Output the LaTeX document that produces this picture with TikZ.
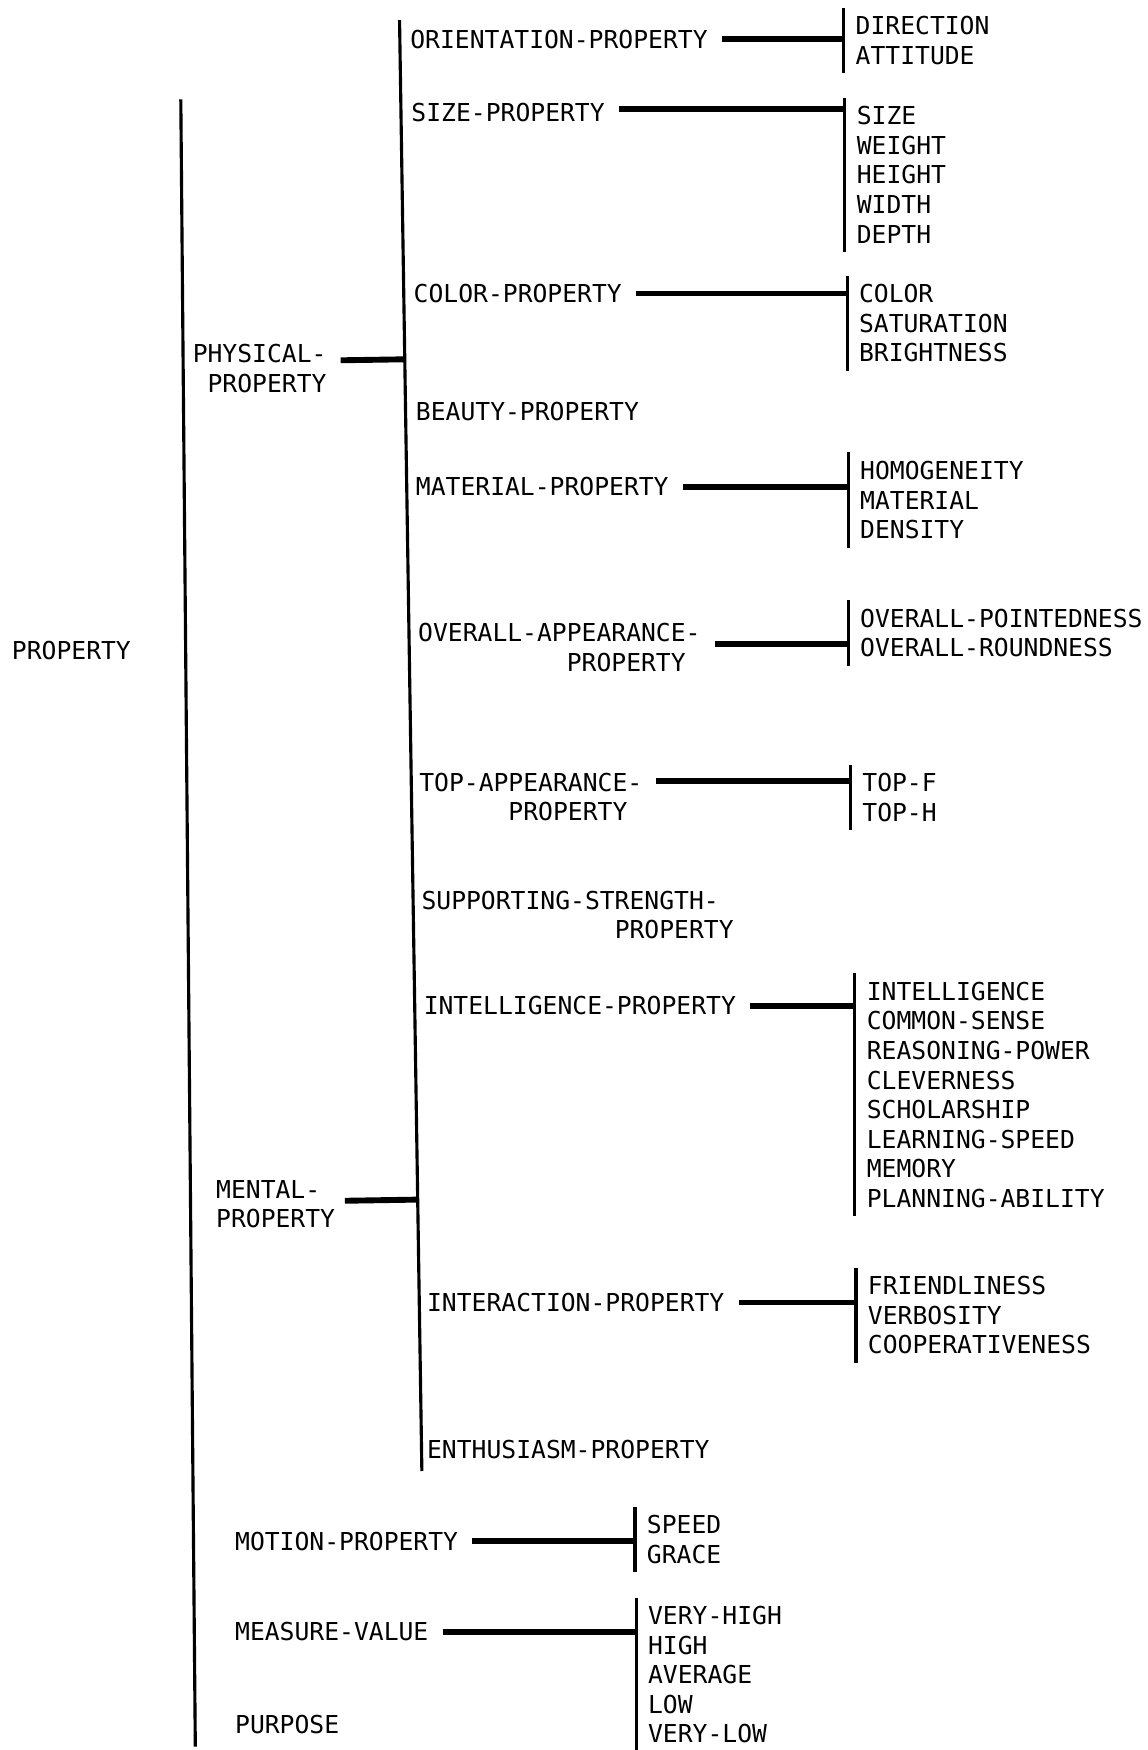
\documentclass[tikz,border=0pt]{standalone}
\usepackage{fontspec}
\setmonofont{DejaVu Sans Mono}
\usetikzlibrary{calc}
\newcommand{\sangria}[1]{\hspace*{#1\fontcharwd\font`M}}

\begin{document}
\begin{tikzpicture}[x=0.01cm, y=-0.01cm,
    every node/.style={font=\ttfamily\fontsize{6.29}{7.54}\selectfont, inner sep=0pt},
    etiqueta/.style={anchor=west, align=left},
    lista/.style={anchor=west, align=left, inner xsep=0.1cm, inner ysep=0.07cm},
    tronco/.style={line width=0.8pt},
    corchete/.style={line width=0.8pt},
    conector/.style={line width=1.5pt, shorten <=0.12cm}]
    \useasboundingbox (0,0) rectangle (1028,1568);

    % Troncos
    \coordinate (t0a) at (162,89);
    \coordinate (t0b) at (175,1565);
    \coordinate (t1a) at (358,18);
    \coordinate (t1b) at (378,1318);
    \draw[tronco] (t0a) -- (t0b);
    \draw[tronco] (t1a) -- (t1b);

    % Primer nivel
    \node[etiqueta] (prop) at (10,583) {PROPERTY};
    \node[etiqueta, align=right] (fisica) at (172,330) {PHYSICAL-\\PROPERTY};
    \node[etiqueta] (mental) at (193,1079) {MENTAL-\\PROPERTY};
    \node[etiqueta] (motion) at (210,1381) {MOTION-PROPERTY};
    \node[etiqueta] (measure) at (210,1462) {MEASURE-VALUE};
    \node[etiqueta] (purpose) at (210,1545) {PURPOSE};

    % Segundo nivel
    \node[etiqueta] (orient) at (367,35) {ORIENTATION-PROPERTY};
    \node[etiqueta] (size) at (368,101) {SIZE-PROPERTY};
    \node[etiqueta] (color) at (370,263) {COLOR-PROPERTY};
    \node[etiqueta] (beauty) at (372,369) {BEAUTY-PROPERTY};
    \node[etiqueta] (material) at (372,436) {MATERIAL-PROPERTY};
    \node[etiqueta] (overall) at (374,580) {OVERALL-APPEARANCE-\\\sangria{10}PROPERTY};
    \node[etiqueta] (top) at (375,714) {TOP-APPEARANCE-\\\sangria{6}PROPERTY};
    \node[etiqueta] (support) at (377,820) {SUPPORTING-STRENGTH-\\\sangria{13}PROPERTY};
    \node[etiqueta] (intel) at (379,901) {INTELLIGENCE-PROPERTY};
    \node[etiqueta] (interac) at (382,1167) {INTERACTION-PROPERTY};
    \node[etiqueta] (enthus) at (382,1299) {ENTHUSIASM-PROPERTY};

    % Listas del tercer nivel
    \node[lista] (lorient) at (756,36.5) {DIRECTION\\ATTITUDE};
    \node[lista] (lsize) at (757,156.5) {SIZE\\WEIGHT\\HEIGHT\\WIDTH\\DEPTH};
    \node[lista] (lcolor) at (759,289.5) {COLOR\\SATURATION\\BRIGHTNESS};
    \node[lista] (lmaterial) at (760,448) {HOMOGENEITY\\MATERIAL\\DENSITY};
    \node[lista] (loverall) at (760,567) {OVERALL-POINTEDNESS\\OVERALL-ROUNDNESS};
    \node[lista] (ltop) at (762,714.5) {TOP-F\\TOP-H};
    \node[lista] (lintel) at (766,981) {INTELLIGENCE\\COMMON-SENSE\\REASONING-POWER\\CLEVERNESS\\SCHOLARSHIP\\LEARNING-SPEED\\MEMORY\\PLANNING-ABILITY};
    \node[lista] (linterac) at (767,1178.5) {FRIENDLINESS\\VERBOSITY\\COOPERATIVENESS};
    \node[lista] (lmotion) at (569,1379.5) {SPEED\\GRACE};
    \node[lista] (lmeasure) at (570,1500.5) {VERY-HIGH\\HIGH\\AVERAGE\\LOW\\VERY-LOW};

    % Corchetes
    \foreach \l in {lorient,lsize,lcolor,lmaterial,loverall,ltop,lintel,linterac,lmotion,lmeasure}
        \draw[corchete] (\l.north west) -- (\l.south west);

    % Conectores al tronco
    \coordinate (cfisica) at ([yshift=0.07cm]fisica.east);
    \coordinate (cmental) at ([yshift=0.03cm]mental.east);
    \draw[conector] (cfisica) -- ($(t1a)!(cfisica)!(t1b)$);
    \draw[conector, shorten <=0.08cm] (cmental) -- ($(t1a)!(cmental)!(t1b)$);

    % Conectores a las listas
    \coordinate (ctop) at ([yshift=0.14cm]top.east);
    \draw[conector] (orient.east) -- (orient.east -| lorient.west);
    \draw[conector] ([yshift=0.03cm]size.east) -- ([yshift=0.03cm]size.east -| lsize.west);
    \draw[conector] (color.east) -- (color.east -| lcolor.west);
    \draw[conector] (material.east) -- (material.east -| lmaterial.west);
    \draw[conector] ([yshift=0.03cm]overall.east) -- ([yshift=0.03cm]overall.east -| loverall.west);
    \draw[conector] (ctop) -- (ctop -| ltop.west);
    \draw[conector] (intel.east) -- (intel.east -| lintel.west);
    \draw[conector] (interac.east) -- (interac.east -| linterac.west);
    \draw[conector] (motion.east) -- (motion.east -| lmotion.west);
    \draw[conector] (measure.east) -- (measure.east -| lmeasure.west);
\end{tikzpicture}
\end{document}
